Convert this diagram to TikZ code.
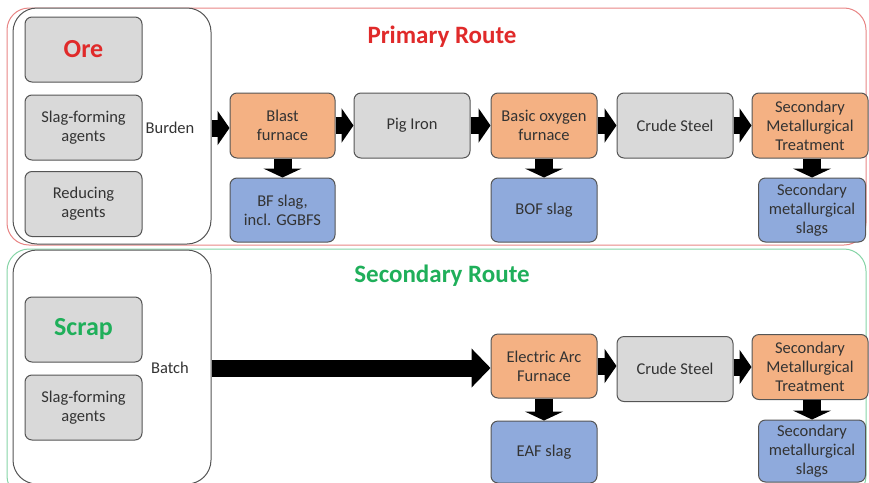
\documentclass[tikz,border=0pt]{standalone}
\usepackage{fontspec}
\setmainfont{Carlito}
\usetikzlibrary{arrows.meta}
\definecolor{boxorange}{HTML}{F4B183}
\definecolor{boxblue}{HTML}{8FAADC}
\definecolor{boxgray}{HTML}{D9D9D9}
\definecolor{edgegray}{HTML}{555555}
\definecolor{txtgray}{HTML}{333333}
\definecolor{routered}{HTML}{E02A2A}
\definecolor{routegreen}{HTML}{1FAF5A}
\definecolor{framered}{HTML}{E88585}
\definecolor{framegreen}{HTML}{86D4A6}
\tikzset{
  box/.style={draw=edgegray, line width=1pt, rounded corners=7pt, align=center,
    text=txtgray, font=\fontsize{16.5}{19}\selectfont, inner sep=1pt},
  graybox/.style={box, fill=boxgray},
  orangebox/.style={box, fill=boxorange},
  bluebox/.style={box, fill=boxblue},
  panel/.style={draw=edgegray, line width=1pt, rounded corners=24pt, fill=white},
  harrow/.style={line width=17pt, -{Triangle[width=34pt,length=12pt]}},
  varrow/.style={line width=18pt, -{Triangle[width=38pt,length=9pt]}},
  bigarrow/.style={line width=17pt, -{Triangle[width=38pt,length=19pt]}},
  lbl/.style={text=txtgray, font=\fontsize{16.5}{19}\selectfont},
  title/.style={font=\fontsize{25}{28}\selectfont\bfseries},
  bigin/.style={font=\fontsize{26}{30}\selectfont\bfseries},
}
\begin{document}
\begin{tikzpicture}[x=1pt,y=-1pt]
\useasboundingbox (0,0) rectangle (869,482);
% frames
\draw[framered, line width=1pt, rounded corners=22pt] (7,8) rectangle (866,245);
\draw[framegreen, line width=1pt, rounded corners=22pt] (7,249) rectangle (866,498);
% titles
\node[title, text=routered] (t1) at (442,37) {Primary Route};
\node[title, text=routegreen] (t2) at (442,276) {Secondary Route};
% panels
\node[panel, minimum width=198pt, minimum height=236pt] (panelA) at (112,126) {};
\node[panel, minimum width=198pt, minimum height=234pt] (panelB) at (112,367) {};
% primary inputs
\node[graybox, minimum width=117pt, minimum height=65pt, text=routered, bigin] (ore) at (83.5,49.5) {Ore};
\node[graybox, minimum width=117pt, minimum height=65pt] (slagA) at (83.5,127.5) {Slag-forming\\agents};
\node[graybox, minimum width=117pt, minimum height=65pt] (reduc) at (83.5,204) {Reducing\\agents};
\node[lbl] (burden) at (170,128) {Burden};
% primary route
\node[orangebox, minimum width=105pt, minimum height=65pt] (bf) at (282.5,125.5) {Blast\\furnace};
\node[graybox, minimum width=116pt, minimum height=65pt] (pig) at (412,125.5) {Pig Iron};
\node[orangebox, minimum width=106pt, minimum height=65pt] (bof) at (544,125.5) {Basic oxygen\\furnace};
\node[graybox, minimum width=116pt, minimum height=65pt] (crudeA) at (675,125.5) {Crude Steel};
\node[orangebox, minimum width=116pt, minimum height=65pt] (smtA) at (810,125.5) {Secondary\\Metallurgical\\Treatment};
\node[bluebox, minimum width=105pt, minimum height=64pt] (bfslag) at (282.5,210) {BF slag,\\incl. GGBFS};
\node[bluebox, minimum width=106pt, minimum height=64pt] (bofslag) at (544,210) {BOF slag};
\node[bluebox, minimum width=107pt, minimum height=64pt] (smslagA) at (812,210) {Secondary\\metallurgical\\slags};
% secondary inputs
\node[graybox, minimum width=117pt, minimum height=65pt, text=routegreen, bigin] (scrap) at (83.5,329.5) {Scrap};
\node[graybox, minimum width=117pt, minimum height=65pt] (slagB) at (83.5,407.5) {Slag-forming\\agents};
\node[lbl] (batch) at (170,368) {Batch};
% secondary route
\node[orangebox, minimum width=106pt, minimum height=64pt] (eaf) at (544,366) {Electric Arc\\Furnace};
\node[graybox, minimum width=116pt, minimum height=65pt] (crudeB) at (675,369) {Crude Steel};
\node[orangebox, minimum width=116pt, minimum height=65pt] (smtB) at (810,367) {Secondary\\Metallurgical\\Treatment};
\node[bluebox, minimum width=106pt, minimum height=62pt] (eafslag) at (544,452) {EAF slag};
\node[bluebox, minimum width=107pt, minimum height=62pt] (smslagB) at (812,451) {Secondary\\metallurgical\\slags};
% arrows primary
\draw[harrow] (panelA.east |- 0,128) -- (bf.west |- 0,128);
\draw[harrow] (bf.east) -- (pig.west);
\draw[harrow] (pig.east) -- (bof.west);
\draw[harrow] (bof.east) -- (crudeA.west);
\draw[harrow] (crudeA.east) -- (smtA.west);
\draw[varrow] (bf.south) -- (bfslag.north);
\draw[varrow] (bof.south) -- (bofslag.north);
\draw[varrow] (smtA.south -| smslagA.north) -- (smslagA.north);
% arrows secondary
\draw[bigarrow] (panelB.east |- 0,368) -- (eaf.west |- 0,368);
\draw[harrow] (eaf.east) -- (crudeB.west |- eaf.east);
\draw[harrow] (crudeB.east |- smtB.west) -- (smtB.west);
\draw[varrow] (eaf.south) -- (eafslag.north);
\draw[varrow] (smtB.south -| smslagB.north) -- (smslagB.north);
\end{tikzpicture}
\end{document}
